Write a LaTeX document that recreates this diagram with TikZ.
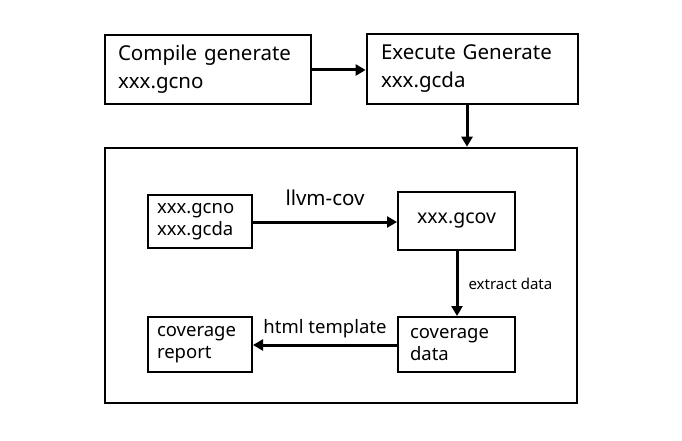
\documentclass[tikz,border=0pt]{standalone}
\usepackage{fontspec}
\setmainfont{Noto Sans}
\usetikzlibrary{arrows.meta}
\begin{document}
\begin{tikzpicture}[x=1pt,y=-1pt,
  bigbox/.style={draw,line width=2.8pt,inner ysep=0pt,align=left,font=\fontsize{20.5}{28}\selectfont},
  smallbox/.style={draw,line width=2pt,inner ysep=0pt,align=left,font=\fontsize{18.5}{22}\selectfont},
  conn/.style={line width=3pt,-{Triangle[length=10pt,width=11pt]}},
  lbl/.style={inner sep=0pt}]
\useasboundingbox (0,0) rectangle (682,441);
\node[bigbox,minimum width=206pt,minimum height=69pt,inner xsep=13pt,text width=180pt] (compile) at (208,69.5) {Compile generate\\xxx.gcno};
\node[bigbox,minimum width=211pt,minimum height=70pt,inner xsep=14pt,text width=183pt] (execute) at (472.5,69) {Execute Generate\\xxx.gcda};
\node[draw,line width=2.6pt,minimum width=472pt,minimum height=255pt,inner sep=0pt] (outer) at (341,275.5) {};
\node[smallbox,minimum width=104pt,minimum height=53pt,inner xsep=9pt,text width=86pt] (in) at (200,221.5) {xxx.gcno\\xxx.gcda};
\node[smallbox,minimum width=117pt,minimum height=58pt,font=\fontsize{19.5}{22}\selectfont,align=center] (gcov) at (456.5,221) {xxx.gcov};
\node[smallbox,minimum width=117pt,minimum height=55pt,inner xsep=12pt,text width=93pt] (data) at (456.5,344.5) {coverage\\data};
\node[smallbox,minimum width=104pt,minimum height=55pt,inner xsep=9pt,text width=86pt] (report) at (200,344.5) {coverage\\report};
\coordinate (c1) at (309,70);
\draw[conn] (compile.east |- c1) -- (execute.west |- c1);
\coordinate (c2) at (467,0);
\draw[conn] (execute.south -| c2) -- (outer.north -| c2);
\coordinate (c3) at (0,222);
\draw[conn] (in.east |- c3) -- (gcov.west |- c3) node[lbl,midway,anchor=base,yshift=17pt,font=\fontsize{20.5}{24}\selectfont] (l1) {llvm-cov};
\coordinate (c4) at (457,0);
\draw[conn] (gcov.south -| c4) -- (data.north -| c4) node[lbl,midway,anchor=west,xshift=10pt,font=\fontsize{15}{18}\selectfont] (l2) {extract data};
\coordinate (c5) at (0,345);
\draw[conn] (data.west |- c5) -- (report.east |- c5) node[lbl,midway,anchor=base,yshift=12pt,font=\fontsize{18.5}{22}\selectfont] (l3) {html template};
\end{tikzpicture}
\end{document}
